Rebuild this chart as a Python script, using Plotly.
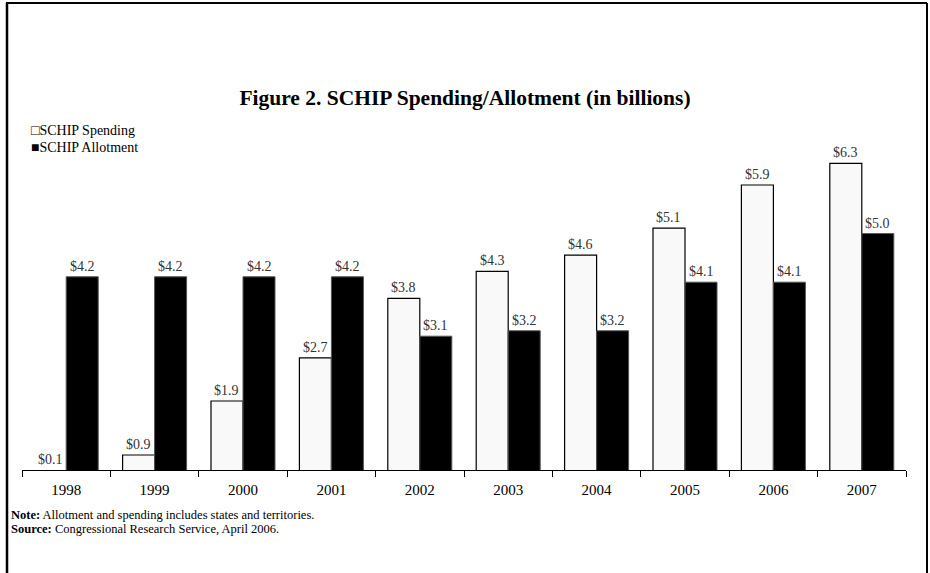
import plotly.graph_objects as go

years = ["1998", "1999", "2000", "2001", "2002", "2003", "2004", "2005", "2006", "2007"]
spending = [0.1, 0.9, 1.9, 2.7, 3.8, 4.3, 4.6, 5.1, 5.9, 6.3]
allotment = [4.2, 4.2, 4.2, 4.2, 3.1, 3.2, 3.2, 4.1, 4.1, 5.0]

W, H = 930, 573
ML, MR, MT, MB = 22, 24, 150, 103
PW, PH = W - ML - MR, H - MT - MB
Y0 = 0.622
PX_PER_UNIT = 54.0
Y1 = Y0 + PH / PX_PER_UNIT
BARGAP = 0.276
FONT = "Liberation Serif"

fig = go.Figure()
fig.add_trace(go.Bar(x=years, y=spending, name="SCHIP Spending",
                     marker=dict(color="#f9f9f9", line=dict(color="black", width=1.2))))
fig.add_trace(go.Bar(x=years, y=allotment, name="SCHIP Allotment",
                     marker=dict(color="black", line=dict(color="#555", width=1))))

bar_px = PW / len(years) * (1 - BARGAP) / 2
annotations = []
for series, shift in ((spending, -bar_px / 2), (allotment, bar_px / 2)):
    for i, v in enumerate(series):
        annotations.append(dict(x=i, y=max(v, Y0), xref="x", yref="y", xshift=shift,
                                text=f"${v:.1f}", showarrow=False, yanchor="bottom", yshift=1,
                                font=dict(family=FONT, size=14, color="#333333")))

def py(p):
    return (H - MB - p) / PH

def px(p):
    return (p - ML) / PW

annotations += [
    dict(x=px(29), y=py(130), xref="paper", yref="paper", xanchor="left", yanchor="middle",
         text="□SCHIP Spending", showarrow=False, font=dict(family=FONT, size=14, color="black")),
    dict(x=px(29), y=py(147), xref="paper", yref="paper", xanchor="left", yanchor="middle",
         text="■SCHIP Allotment", showarrow=False, font=dict(family=FONT, size=14, color="black")),
    dict(x=px(9), y=py(515), xref="paper", yref="paper", xanchor="left", yanchor="middle",
         text="<b>Note:</b> Allotment and spending includes states and territories.",
         showarrow=False, font=dict(family=FONT, size=12.5, color="black")),
    dict(x=px(9), y=py(529), xref="paper", yref="paper", xanchor="left", yanchor="middle",
         text="<b>Source:</b> Congressional Research Service, April 2006.",
         showarrow=False, font=dict(family=FONT, size=12.5, color="black")),
]

shapes = [
    dict(type="line", xref="paper", yref="paper", x0=px(7), x1=px(7), y0=py(3), y1=py(590),
         line=dict(color="black", width=2.5)),
    dict(type="line", xref="paper", yref="paper", x0=px(6), x1=px(927), y0=py(3), y1=py(3),
         line=dict(color="black", width=2)),
    dict(type="line", xref="paper", yref="paper", x0=px(927), x1=px(927), y0=py(3), y1=py(590),
         line=dict(color="black", width=2)),
]

fig.update_layout(
    width=W, height=H,
    margin=dict(l=ML, r=MR, t=MT, b=MB, autoexpand=False),
    paper_bgcolor="white", plot_bgcolor="white",
    barmode="group", bargap=BARGAP, bargroupgap=0,
    showlegend=False,
    title=dict(text="<b>Figure 2. SCHIP Spending/Allotment (in billions)</b>",
               x=0.5, xanchor="center", y=1 - 97 / H, yanchor="middle",
               font=dict(family=FONT, size=21.5, color="black")),
    xaxis=dict(type="category", range=[-0.5, len(years) - 0.5], showline=True,
               linecolor="black", linewidth=1, ticks="outside",
               tickson="boundaries", ticklen=6, tickcolor="black", tickangle=0,
               ticklabelstandoff=6,
               tickfont=dict(family=FONT, size=15, color="black"), showgrid=False),
    yaxis=dict(range=[Y0, Y1], visible=False, showgrid=False, zeroline=False),
    annotations=annotations, shapes=shapes,
)

fig.write_html("out.html")
